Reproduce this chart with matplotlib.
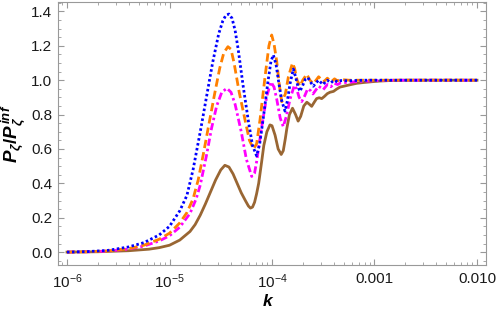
import numpy as np
import matplotlib
matplotlib.use("Agg")
import matplotlib.pyplot as plt
from matplotlib.ticker import FixedLocator, FixedFormatter, MultipleLocator, LogLocator, NullFormatter

plt.rcParams['font.family'] = ['Liberation Sans', 'DejaVu Sans']
plt.rcParams['mathtext.fontset'] = 'custom'
plt.rcParams['mathtext.rm'] = 'Liberation Sans'
plt.rcParams['mathtext.it'] = 'Liberation Sans:italic'
plt.rcParams['mathtext.bf'] = 'Liberation Sans:bold'
plt.rcParams['mathtext.bfit'] = 'Liberation Sans:bold:italic'

# log10(k) sample points and P_zeta / P_zeta^inf
lk_blue = [-6.0, -5.8, -5.6, -5.4, -5.25, -5.1, -5.0, -4.9, -4.83, -4.77, -4.70, -4.64, -4.58, -4.52,
           -4.48, -4.45, -4.42, -4.39, -4.36, -4.33, -4.28, -4.23, -4.19, -4.15, -4.12, -4.085, -4.04,
           -4.01, -3.987, -3.96, -3.935, -3.905, -3.873, -3.85, -3.824, -3.792, -3.77, -3.745, -3.727,
           -3.70, -3.675, -3.65, -3.625, -3.597, -3.57, -3.545, -3.52, -3.50, -3.48, -3.46, -3.44,
           -3.425, -3.405, -3.39, -3.37, -3.36, -3.33, -3.25, -3.1, -2.9, -2.5, -2.0]
p_blue = [0.0, 0.003, 0.01, 0.03, 0.055, 0.10, 0.15, 0.24, 0.33, 0.48, 0.70, 0.90, 1.10, 1.27,
          1.345, 1.378, 1.385, 1.36, 1.29, 1.18, 0.96, 0.76, 0.62, 0.56, 0.63, 0.78, 0.99,
          1.11, 1.147, 1.09, 0.99, 0.88, 0.82, 0.88, 0.98, 1.065, 1.02, 0.96, 0.935,
          0.97, 1.005, 1.015, 0.99, 0.965, 0.985, 1.0, 0.985, 0.975, 0.99, 1.0, 0.99,
          0.985, 0.995, 1.0, 0.993, 0.99, 0.998, 0.997, 1.0, 1.0, 1.0, 1.0]

lk_orange = [-6.0, -5.8, -5.6, -5.4, -5.25, -5.1, -5.0, -4.9, -4.83, -4.77, -4.72, -4.67, -4.62, -4.56,
             -4.51, -4.47, -4.43, -4.40, -4.37, -4.32, -4.26, -4.22, -4.18, -4.15, -4.117, -4.068,
             -4.03, -4.003, -3.98, -3.954, -3.93, -3.905, -3.87, -3.84, -3.80, -3.78, -3.755, -3.727,
             -3.70, -3.661, -3.63, -3.597, -3.57, -3.545, -3.52, -3.50, -3.48, -3.46, -3.44, -3.425,
             -3.405, -3.39, -3.37, -3.36, -3.33, -3.25, -3.1, -2.9, -2.5, -2.0]
p_orange = [0.0, 0.002, 0.007, 0.02, 0.04, 0.075, 0.11, 0.17, 0.23, 0.31, 0.42, 0.57, 0.73, 0.92,
            1.07, 1.16, 1.195, 1.18, 1.10, 0.93, 0.76, 0.65, 0.60, 0.63, 0.77, 1.02,
            1.20, 1.263, 1.21, 1.11, 0.98, 0.875, 0.92, 1.02, 1.10, 1.07, 1.0, 0.965,
            1.0, 1.035, 1.0, 0.98, 1.0, 1.02, 1.005, 0.99, 1.0, 1.012, 1.0, 0.992,
            1.0, 1.008, 1.0, 0.997, 1.004, 1.0, 1.0, 1.0, 1.0, 1.0]

lk_magenta = [-6.0, -5.8, -5.6, -5.4, -5.25, -5.1, -5.0, -4.9, -4.8, -4.74, -4.70, -4.64, -4.59, -4.54,
              -4.49, -4.44, -4.40, -4.36, -4.30, -4.25, -4.198, -4.17, -4.149, -4.10, -4.052, -4.01,
              -3.98, -3.954, -3.92, -3.89, -3.86, -3.824, -3.782, -3.76, -3.735, -3.71, -3.68, -3.652,
              -3.625, -3.60, -3.57, -3.545, -3.52, -3.50, -3.48, -3.46, -3.44, -3.425, -3.405, -3.39,
              -3.37, -3.36, -3.33, -3.25, -3.15, -3.0, -2.85, -2.5, -2.0]
p_magenta = [0.0, 0.002, 0.006, 0.018, 0.035, 0.065, 0.095, 0.145, 0.225, 0.31, 0.39, 0.56, 0.72, 0.85,
             0.93, 0.953, 0.93, 0.86, 0.70, 0.54, 0.44, 0.46, 0.53, 0.73, 0.905, 0.99,
             0.96, 0.89, 0.78, 0.73, 0.79, 0.89, 0.97, 0.95, 0.90, 0.876, 0.91, 0.95,
             0.94, 0.92, 0.945, 0.965, 0.955, 0.945, 0.96, 0.975, 0.968, 0.962, 0.975, 0.982,
             0.977, 0.975, 0.985, 0.988, 0.993, 0.997, 1.0, 1.0, 1.0]

lk_brown = [-6.0, -5.7, -5.4, -5.2, -5.1, -5.0, -4.9, -4.8, -4.75, -4.7, -4.65, -4.6, -4.55, -4.5,
            -4.46, -4.42, -4.38, -4.34, -4.30, -4.26, -4.23, -4.21, -4.19, -4.17, -4.15, -4.13,
            -4.10, -4.08, -4.05, -4.02, -4.0, -3.97, -3.94, -3.91, -3.89, -3.87, -3.855, -3.83,
            -3.80, -3.77, -3.745, -3.72, -3.69, -3.66, -3.635, -3.613, -3.59, -3.565, -3.54, -3.515,
            -3.49, -3.46, -3.434, -3.40, -3.37, -3.337, -3.30, -3.25, -3.174, -3.1, -3.012, -2.95,
            -2.849, -2.7, -2.5, -2.0]
p_brown = [0.0, 0.002, 0.008, 0.017, 0.026, 0.04, 0.07, 0.12, 0.16, 0.215, 0.28, 0.35, 0.42, 0.478,
           0.505, 0.495, 0.455, 0.40, 0.345, 0.30, 0.268, 0.256, 0.262, 0.29, 0.34, 0.40,
           0.53, 0.62, 0.70, 0.74, 0.735, 0.68, 0.60, 0.568, 0.59, 0.66, 0.72, 0.80,
           0.837, 0.80, 0.762, 0.79, 0.85, 0.872, 0.86, 0.848, 0.87, 0.893, 0.898, 0.893,
           0.905, 0.922, 0.93, 0.935, 0.948, 0.96, 0.965, 0.972, 0.982, 0.987, 0.992, 0.995,
           0.998, 1.0, 1.0, 1.0]

x_ticks = [1e-6, 1e-5, 1e-4, 1e-3, 1e-2]
x_ticklabels = ['$10^{-6}$', '$10^{-5}$', '$10^{-4}$', '0.001', '0.010']
y_ticks = [0.0, 0.2, 0.4, 0.6, 0.8, 1.0, 1.2, 1.4]
y_ticklabels = ['0.0', '0.2', '0.4', '0.6', '0.8', '1.0', '1.2', '1.4']

fig = plt.figure(figsize=(4.98, 3.13), dpi=100)
ax = fig.add_axes([58/498, 48/313, 428/498, 263/313])

ax.plot(10**np.array(lk_brown), p_brown, color=(0.6, 0.4, 0.2), lw=2)
ax.plot(10**np.array(lk_magenta), p_magenta, color=(1, 0, 1), lw=2, linestyle=(0, (2.6, 1.1, 0.9, 1.1)))
ax.plot(10**np.array(lk_orange), p_orange, color=(1, 0.5, 0), lw=2, linestyle=(0, (3, 1.5)))
ax.plot(10**np.array(lk_blue), p_blue, color=(0, 0, 1), lw=2, linestyle=(0, (0.9, 0.9)))

ax.set_xscale('log')
ax.set_xlim(10**-6.088, 10**-1.912)
ax.set_ylim(-0.075, 1.455)

ax.xaxis.set_major_locator(FixedLocator(x_ticks))
ax.xaxis.set_major_formatter(FixedFormatter(x_ticklabels))
ax.xaxis.set_minor_locator(LogLocator(base=10, subs=np.arange(2, 10)))
ax.xaxis.set_minor_formatter(NullFormatter())
ax.yaxis.set_major_locator(FixedLocator(y_ticks))
ax.yaxis.set_major_formatter(FixedFormatter(y_ticklabels))
ax.yaxis.set_minor_locator(MultipleLocator(0.05))

for s in ax.spines.values():
    s.set_color('0.6')
    s.set_linewidth(0.8)
ax.tick_params(which='both', direction='in', top=True, right=True, color='0.6',
               labelsize=11, labelcolor='0.1')
ax.tick_params(which='major', length=4, width=0.8)
ax.tick_params(which='minor', length=2.2, width=0.6)
ax.tick_params(axis='y', pad=4)
ax.tick_params(axis='x', pad=5)

ax.set_xlabel('$\\mathbfit{k}$', fontsize=12.5)
ax.set_ylabel('$\\mathbfit{P}_{\\mathbfit{\\zeta}}\\mathbf{/}\\mathbfit{P}_{\\mathbfit{\\zeta}}^{\\,\\mathbfit{inf}}$',
              fontsize=13.5)
ax.xaxis.set_label_coords(0.49, -0.108)
ax.yaxis.set_label_coords(-0.072, 0.5)

fig.savefig('out.png', dpi=100)
